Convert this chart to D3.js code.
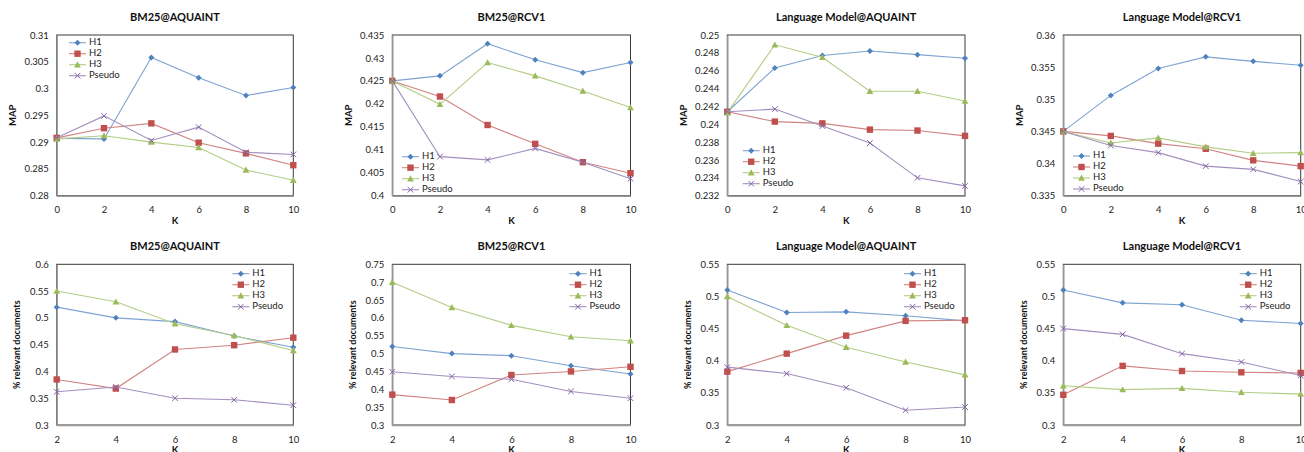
<!DOCTYPE html>
<html><head><meta charset="utf-8">
<script src="https://cdn.jsdelivr.net/npm/d3@7"></script>
<style>
html,body{margin:0;padding:0;background:#fff;}
svg{display:block;font-family:Lato,"Open Sans",sans-serif;}
</style></head>
<body><svg id="c" width="1304" height="452"></svg>
<script>
// ---------- data ----------
const seriesNames = ["H1", "H2", "H3", "Pseudo"];
const kTop = [0, 2, 4, 6, 8, 10];
const kBottom = [2, 4, 6, 8, 10];
const titlesTop = ["BM25@AQUAINT", "BM25@RCV1", "Language Model@AQUAINT", "Language Model@RCV1"];
const titlesBottom = ["BM25@AQUAINT", "BM25@RCV1", "Language Model@AQUAINT", "Language Model@RCV1"];
const yLabelTop = "MAP";
const yLabelBottom = "% relevant documents";
const xLabel = "K";

// MAP (top row) — series order H1, H2, H3, Pseudo
const mapBm25Aquaint = [
  [0.2907, 0.2906, 0.3058, 0.3020, 0.2987, 0.3002],
  [0.2908, 0.2926, 0.2935, 0.2899, 0.2879, 0.2857],
  [0.2906, 0.2912, 0.2900, 0.2890, 0.2848, 0.2829],
  [0.2908, 0.2949, 0.2903, 0.2928, 0.2881, 0.2877]
];
const mapBm25Rcv1 = [
  [0.4250, 0.4261, 0.4331, 0.4296, 0.4268, 0.4290],
  [0.4250, 0.4216, 0.4154, 0.4113, 0.4073, 0.4049],
  [0.4250, 0.4199, 0.4290, 0.4261, 0.4228, 0.4192],
  [0.4250, 0.4085, 0.4078, 0.4103, 0.4073, 0.4037]
];
const mapLmAquaint = [
  [0.2414, 0.2463, 0.2477, 0.2482, 0.2478, 0.2474],
  [0.2414, 0.2403, 0.2401, 0.2394, 0.2393, 0.2387],
  [0.2413, 0.2489, 0.2475, 0.2437, 0.2437, 0.2426],
  [0.2414, 0.2417, 0.2398, 0.2379, 0.2340, 0.2331]
];
const mapLmRcv1 = [
  [0.3450, 0.3506, 0.3548, 0.3566, 0.3559, 0.3553],
  [0.3450, 0.3443, 0.3431, 0.3423, 0.3405, 0.3396],
  [0.3450, 0.3432, 0.3440, 0.3426, 0.3416, 0.3417],
  [0.3450, 0.3428, 0.3417, 0.3396, 0.3391, 0.3372]
];
// % relevant documents (bottom row)
const relBm25Aquaint = [
  [0.520, 0.500, 0.493, 0.466, 0.445],
  [0.385, 0.368, 0.441, 0.449, 0.463],
  [0.550, 0.530, 0.489, 0.467, 0.439],
  [0.362, 0.371, 0.350, 0.347, 0.337]
];
const relBm25Rcv1 = [
  [0.520, 0.500, 0.494, 0.466, 0.443],
  [0.385, 0.370, 0.440, 0.450, 0.463],
  [0.700, 0.629, 0.579, 0.547, 0.536],
  [0.449, 0.436, 0.428, 0.394, 0.375]
];
const relLmAquaint = [
  [0.510, 0.475, 0.476, 0.470, 0.462],
  [0.383, 0.411, 0.439, 0.462, 0.463],
  [0.500, 0.455, 0.421, 0.398, 0.378],
  [0.390, 0.380, 0.358, 0.323, 0.328]
];
const relLmRcv1 = [
  [0.510, 0.490, 0.487, 0.463, 0.458],
  [0.347, 0.392, 0.384, 0.382, 0.381],
  [0.361, 0.355, 0.357, 0.351, 0.348],
  [0.450, 0.441, 0.411, 0.398, 0.377]
];

// tick values
const yTicksBm25AquaintMap = [0.28, 0.285, 0.29, 0.295, 0.3, 0.305, 0.31];
const yTicksBm25Rcv1Map = [0.4, 0.405, 0.41, 0.415, 0.42, 0.425, 0.43, 0.435];
const yTicksLmAquaintMap = [0.232, 0.234, 0.236, 0.238, 0.24, 0.242, 0.244, 0.246, 0.248, 0.25];
const yTicksLmRcv1Map = [0.335, 0.34, 0.345, 0.35, 0.355, 0.36];
const yTicksBm25AquaintRel = [0.3, 0.35, 0.4, 0.45, 0.5, 0.55, 0.6];
const yTicksBm25Rcv1Rel = [0.3, 0.35, 0.4, 0.45, 0.5, 0.55, 0.6, 0.65, 0.7, 0.75];
const yTicksLmRel = [0.3, 0.35, 0.4, 0.45, 0.5, 0.55];

// ---------- styling / layout ----------
const colors = ["#4F81BD", "#C0504D", "#9BBB59", "#8064A2"];
const lineColors = ["#7FA3D2", "#D08482", "#B3CD86", "#A28FBE"];
const shapes = ["diamond", "square", "triangle", "x"];

const lefts = [56.7, 392.3, 727.3, 1063.3];
const rights = [293.3, 630.5, 965, 1300.7];
const rowTop = [{top: 35, bottom: 195.7}, {top: 264.3, bottom: 425}];

const panels = [
  {row: 0, col: 0, title: titlesTop[0], x: kTop, data: mapBm25Aquaint, ticks: yTicksBm25AquaintMap, ylab: yLabelTop, legend: {x: 69, y: 42.7}},
  {row: 0, col: 1, title: titlesTop[1], x: kTop, data: mapBm25Rcv1, ticks: yTicksBm25Rcv1Map, ylab: yLabelTop, legend: {x: 402, y: 156.7}},
  {row: 0, col: 2, title: titlesTop[2], x: kTop, data: mapLmAquaint, ticks: yTicksLmAquaintMap, ylab: yLabelTop, legend: {x: 742.7, y: 150.7}},
  {row: 0, col: 3, title: titlesTop[3], x: kTop, data: mapLmRcv1, ticks: yTicksLmRcv1Map, ylab: yLabelTop, legend: {x: 1073, y: 156}},
  {row: 1, col: 0, title: titlesBottom[0], x: kBottom, data: relBm25Aquaint, ticks: yTicksBm25AquaintRel, ylab: yLabelBottom, legend: {x: rights[0] - 61, y: 273.7}},
  {row: 1, col: 1, title: titlesBottom[1], x: kBottom, data: relBm25Rcv1, ticks: yTicksBm25Rcv1Rel, ylab: yLabelBottom, legend: {x: rights[1] - 61, y: 273.7}},
  {row: 1, col: 2, title: titlesBottom[2], x: kBottom, data: relLmAquaint, ticks: yTicksLmRel, ylab: yLabelBottom, legend: {x: rights[2] - 61, y: 273.7}},
  {row: 1, col: 3, title: titlesBottom[3], x: kBottom, data: relLmRcv1, ticks: yTicksLmRel, ylab: yLabelBottom, legend: {x: rights[3] - 61, y: 273.7}}
];

const svg = d3.select("#c");
const fmt = v => String(+v.toFixed(4));

function marker(g, shape, cx, cy, color) {
  if (shape === "diamond") {
    const s = 3;
    g.append("path").attr("d", `M${cx},${cy - s}L${cx + s},${cy}L${cx},${cy + s}L${cx - s},${cy}Z`).attr("fill", color);
  } else if (shape === "square") {
    const s = 3.2;
    g.append("rect").attr("x", cx - s).attr("y", cy - s).attr("width", 2 * s).attr("height", 2 * s).attr("fill", color);
  } else if (shape === "triangle") {
    const s = 3.4;
    g.append("path").attr("d", `M${cx},${cy - s}L${cx + s},${cy + s * 0.8}L${cx - s},${cy + s * 0.8}Z`).attr("fill", color);
  } else {
    const s = 2.8;
    g.append("path").attr("d", `M${cx - s},${cy - s}L${cx + s},${cy + s}M${cx - s},${cy + s}L${cx + s},${cy - s}`)
      .attr("stroke", color).attr("stroke-width", 1).attr("fill", "none");
  }
}

panels.forEach(p => {
  const L = lefts[p.col], R = rights[p.col];
  const T = rowTop[p.row].top, B = rowTop[p.row].bottom;
  const x = d3.scaleLinear().domain(d3.extent(p.x)).range([L, R]);
  const y = d3.scaleLinear().domain(d3.extent(p.ticks)).range([B, T]);
  const g = svg.append("g");

  // plot frame
  g.append("rect").attr("x", L).attr("y", T).attr("width", R - L).attr("height", B - T)
    .attr("fill", "none").attr("stroke", "#3a3a3a").attr("stroke-width", 1);

  // y axis
  const ya = g.append("g").attr("transform", `translate(${L},0)`)
    .call(d3.axisLeft(y).tickValues(p.ticks).tickFormat(fmt).tickSize(0).tickPadding(8));
  ya.select(".domain").attr("stroke", "#9a9a9a").attr("stroke-width", 1.5);
  ya.selectAll("text").attr("font-size", 9.5).attr("fill", "#222").attr("font-family", "Lato,sans-serif");

  // x axis
  const xa = g.append("g").attr("transform", `translate(0,${B})`)
    .call(d3.axisBottom(x).tickValues(p.x).tickFormat(d3.format("d")).tickSize(0).tickPadding(11));
  xa.select(".domain").attr("stroke", "#9a9a9a").attr("stroke-width", 1.5);
  xa.selectAll("text").attr("font-size", 9.5).attr("fill", "#222").attr("font-family", "Lato,sans-serif");

  // title
  g.append("text").attr("x", (L + R) / 2).attr("y", T - 17).attr("text-anchor", "middle")
    .attr("dominant-baseline", "middle").attr("font-weight", "bold").attr("font-size", 11).attr("fill", "#111")
    .text(p.title);
  // axis labels
  g.append("text").attr("x", (L + R) / 2).attr("y", B + 25.5).attr("text-anchor", "middle")
    .attr("dominant-baseline", "middle").attr("font-weight", "bold").attr("font-size", 9.5).attr("fill", "#111")
    .text(xLabel);
  const yl = p.row === 0 ? L - 42.7 : L - 38.7;
  g.append("text").attr("transform", `translate(${yl},${(T + B) / 2}) rotate(-90)`).attr("text-anchor", "middle")
    .attr("dominant-baseline", "middle").attr("font-weight", "bold").attr("font-size", p.row === 0 ? 9.5 : 9).attr("fill", "#111")
    .text(p.ylab);

  // series
  p.data.forEach((vals, si) => {
    const line = d3.line().x((d, i) => x(p.x[i])).y(d => y(d));
    g.append("path").datum(vals).attr("d", line).attr("fill", "none")
      .attr("stroke", lineColors[si]).attr("stroke-width", 1.1);
    vals.forEach((v, i) => marker(g, shapes[si], x(p.x[i]), y(v), colors[si]));
  });

  // legend
  seriesNames.forEach((name, si) => {
    const ly = p.legend.y + si * 11;
    g.append("line").attr("x1", p.legend.x).attr("x2", p.legend.x + 17).attr("y1", ly).attr("y2", ly)
      .attr("stroke", lineColors[si]).attr("stroke-width", 1.1);
    marker(g, shapes[si], p.legend.x + 8.5, ly, colors[si]);
    g.append("text").attr("x", p.legend.x + 20).attr("y", ly).attr("dominant-baseline", "middle")
      .attr("font-size", 9.5).attr("fill", "#222").text(name);
  });
});
</script>
</body></html>
